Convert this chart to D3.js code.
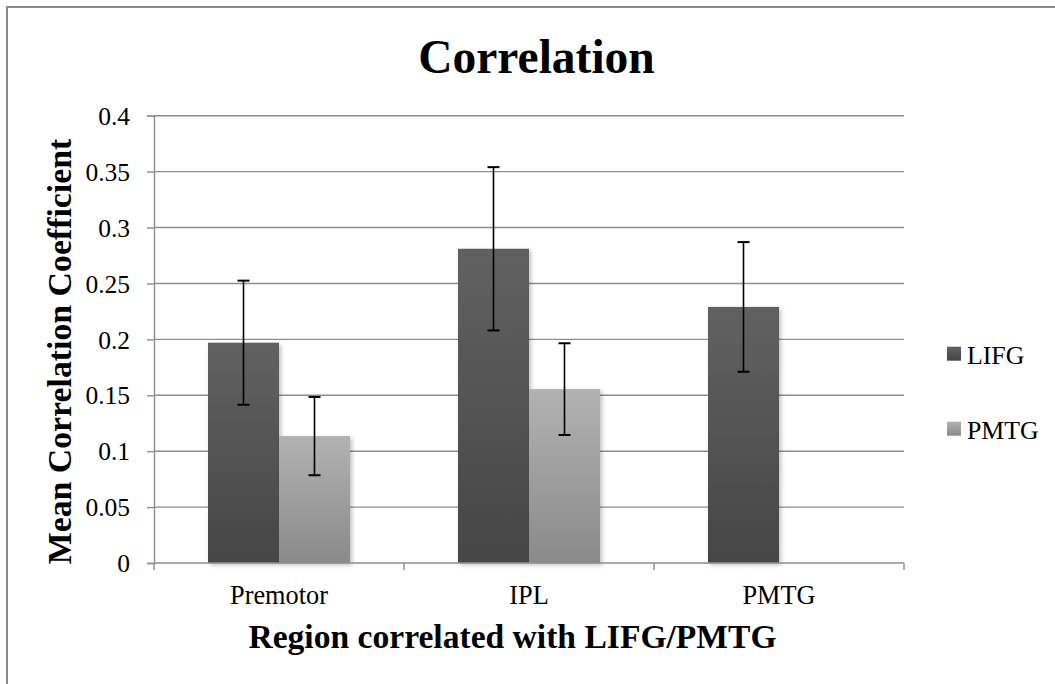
<!DOCTYPE html>
<html>
<head>
<meta charset="utf-8">
<script src="https://cdn.jsdelivr.net/npm/d3@7"></script>
<style>
  html, body { margin: 0; padding: 0; background: #fff; }
  svg { display: block; font-family: "Liberation Serif", "Times New Roman", serif; }
</style>
</head>
<body>
<svg id="chart" width="1055" height="684"></svg>
<script>
const categories = ["Premotor", "IPL", "PMTG"];
const seriesNames = ["LIFG", "PMTG"];
const lifgValues = [0.197, 0.281, 0.229];
const lifgErrors = [0.0555, 0.073, 0.058];
const pmtgValues = [0.1135, 0.1555, null];
const pmtgErrors = [0.035, 0.041, null];
const yTicks = [0, 0.05, 0.1, 0.15, 0.2, 0.25, 0.3, 0.35, 0.4];
const tickLabels = ["0", "0.05", "0.1", "0.15", "0.2", "0.25", "0.3", "0.35", "0.4"];

(function () {
const svg = d3.select("#chart");
const W = 1055, H = 684;
const pLeft = 154, pRight = 904, pTop = 115.7, pBottom = 563;

// outer border
svg.append("rect").attr("x", 7).attr("y", 7).attr("width", W).attr("height", H)
  .attr("fill", "none").attr("stroke", "#898989").attr("stroke-width", 2);

const defs = svg.append("defs");
const g1 = defs.append("linearGradient").attr("id", "gLIFG").attr("x1", 0).attr("y1", 0).attr("x2", 0).attr("y2", 1);
g1.append("stop").attr("offset", "0%").attr("stop-color", "#616161");
g1.append("stop").attr("offset", "100%").attr("stop-color", "#464646");
const g2 = defs.append("linearGradient").attr("id", "gPMTG").attr("x1", 0).attr("y1", 0).attr("x2", 0).attr("y2", 1);
g2.append("stop").attr("offset", "0%").attr("stop-color", "#b2b2b2");
g2.append("stop").attr("offset", "100%").attr("stop-color", "#8a8a8a");
const f = defs.append("filter").attr("id", "shadow").attr("x", "-10%").attr("y", "-10%").attr("width", "130%").attr("height", "130%");
f.append("feDropShadow").attr("dx", 2).attr("dy", 2).attr("stdDeviation", 2).attr("flood-color", "#000").attr("flood-opacity", 0.25);

const y = d3.scaleLinear().domain([0, 0.4]).range([pBottom, pTop]);
const x0 = d3.scaleBand().domain(categories).range([pLeft, pRight]).paddingInner(0.432).paddingOuter(0.216);
const x1 = d3.scaleBand().domain(seriesNames).range([0, x0.bandwidth()]);
const step = x0.step();

// gridlines
svg.append("g").selectAll("line").data(yTicks.slice(1)).join("line")
  .attr("x1", pLeft).attr("x2", pRight)
  .attr("y1", d => y(d)).attr("y2", d => y(d))
  .attr("stroke", "#8e8e8e").attr("stroke-width", 1.4);

// y axis
const yAxis = d3.axisLeft(y).tickValues(yTicks).tickFormat((d, i) => tickLabels[i]).tickSize(7).tickPadding(17);
const ya = svg.append("g").attr("transform", `translate(${pLeft},0)`).call(yAxis);
ya.select(".domain").attr("stroke", "#8e8e8e").attr("stroke-width", 1.4);
ya.selectAll(".tick line").attr("stroke", "#8e8e8e").attr("stroke-width", 1.4);
ya.selectAll(".tick text").attr("font-size", 25.5).attr("font-family", "Liberation Serif").attr("fill", "#000").attr("dy", "0.34em");

// bars
const rows = [
  { name: "LIFG", values: lifgValues, errors: lifgErrors, fill: "url(#gLIFG)" },
  { name: "PMTG", values: pmtgValues, errors: pmtgErrors, fill: "url(#gPMTG)" }
];
const barsG = svg.append("g");
rows.forEach(s => {
  categories.forEach((c, i) => {
    const v = s.values[i];
    if (v == null) return;
    barsG.append("rect")
      .attr("x", x0(c) + x1(s.name)).attr("width", x1.bandwidth())
      .attr("y", y(v)).attr("height", y(0) - y(v))
      .attr("fill", s.fill).attr("filter", "url(#shadow)");
  });
});

// x axis
const xa = svg.append("g");
xa.append("line").attr("x1", pLeft).attr("x2", pRight).attr("y1", pBottom).attr("y2", pBottom)
  .attr("stroke", "#8e8e8e").attr("stroke-width", 1.4);
const bounds = categories.map(c => x0(c) - x0.paddingInner() * step / 2);
bounds.push(pRight);
xa.selectAll("line.tk").data(bounds).join("line").attr("class", "tk")
  .attr("x1", d => d).attr("x2", d => d).attr("y1", pBottom).attr("y2", pBottom + 7)
  .attr("stroke", "#8e8e8e").attr("stroke-width", 1.4);
xa.selectAll("text").data(categories).join("text")
  .attr("x", d => x0(d) + x0.bandwidth() / 2).attr("y", 604)
  .attr("text-anchor", "middle").attr("font-size", 26.3).text(d => d);

// error bars
const eg = svg.append("g").attr("stroke", "#000").attr("stroke-width", 1.6);
rows.forEach(s => {
  categories.forEach((c, i) => {
    const v = s.values[i];
    if (v == null) return;
    const e = s.errors[i];
    const cx = x0(c) + x1(s.name) + x1.bandwidth() / 2;
    eg.append("line").attr("x1", cx).attr("x2", cx).attr("y1", y(v + e)).attr("y2", y(v - e));
    [v + e, v - e].forEach(t => {
      eg.append("line").attr("x1", cx - 6).attr("x2", cx + 6).attr("y1", y(t)).attr("y2", y(t)).attr("stroke-width", 2);
    });
  });
});

// title
svg.append("text").attr("x", 536.5).attr("y", 73).attr("text-anchor", "middle")
  .attr("font-size", 47.5).attr("font-weight", "bold").text("Correlation");

// axis titles
svg.append("text").attr("x", 512.5).attr("y", 648).attr("text-anchor", "middle")
  .attr("font-size", 33.6).attr("font-weight", "bold").text("Region correlated with LIFG/PMTG");
svg.append("text").attr("transform", "translate(71,351.5) rotate(-90)").attr("text-anchor", "middle")
  .attr("font-size", 33.8).attr("font-weight", "bold").text("Mean Correlation Coefficient");

// legend
const legY = [346.7, 421.7];
const legG = svg.append("g");
rows.forEach((s, i) => {
  legG.append("rect").attr("x", 947).attr("y", legY[i]).attr("width", 14).attr("height", 14).attr("fill", s.fill);
  legG.append("text").attr("x", 967).attr("y", legY[i] + 17).attr("font-size", 25.8).text(s.name);
});
})();
</script>
</body>
</html>
